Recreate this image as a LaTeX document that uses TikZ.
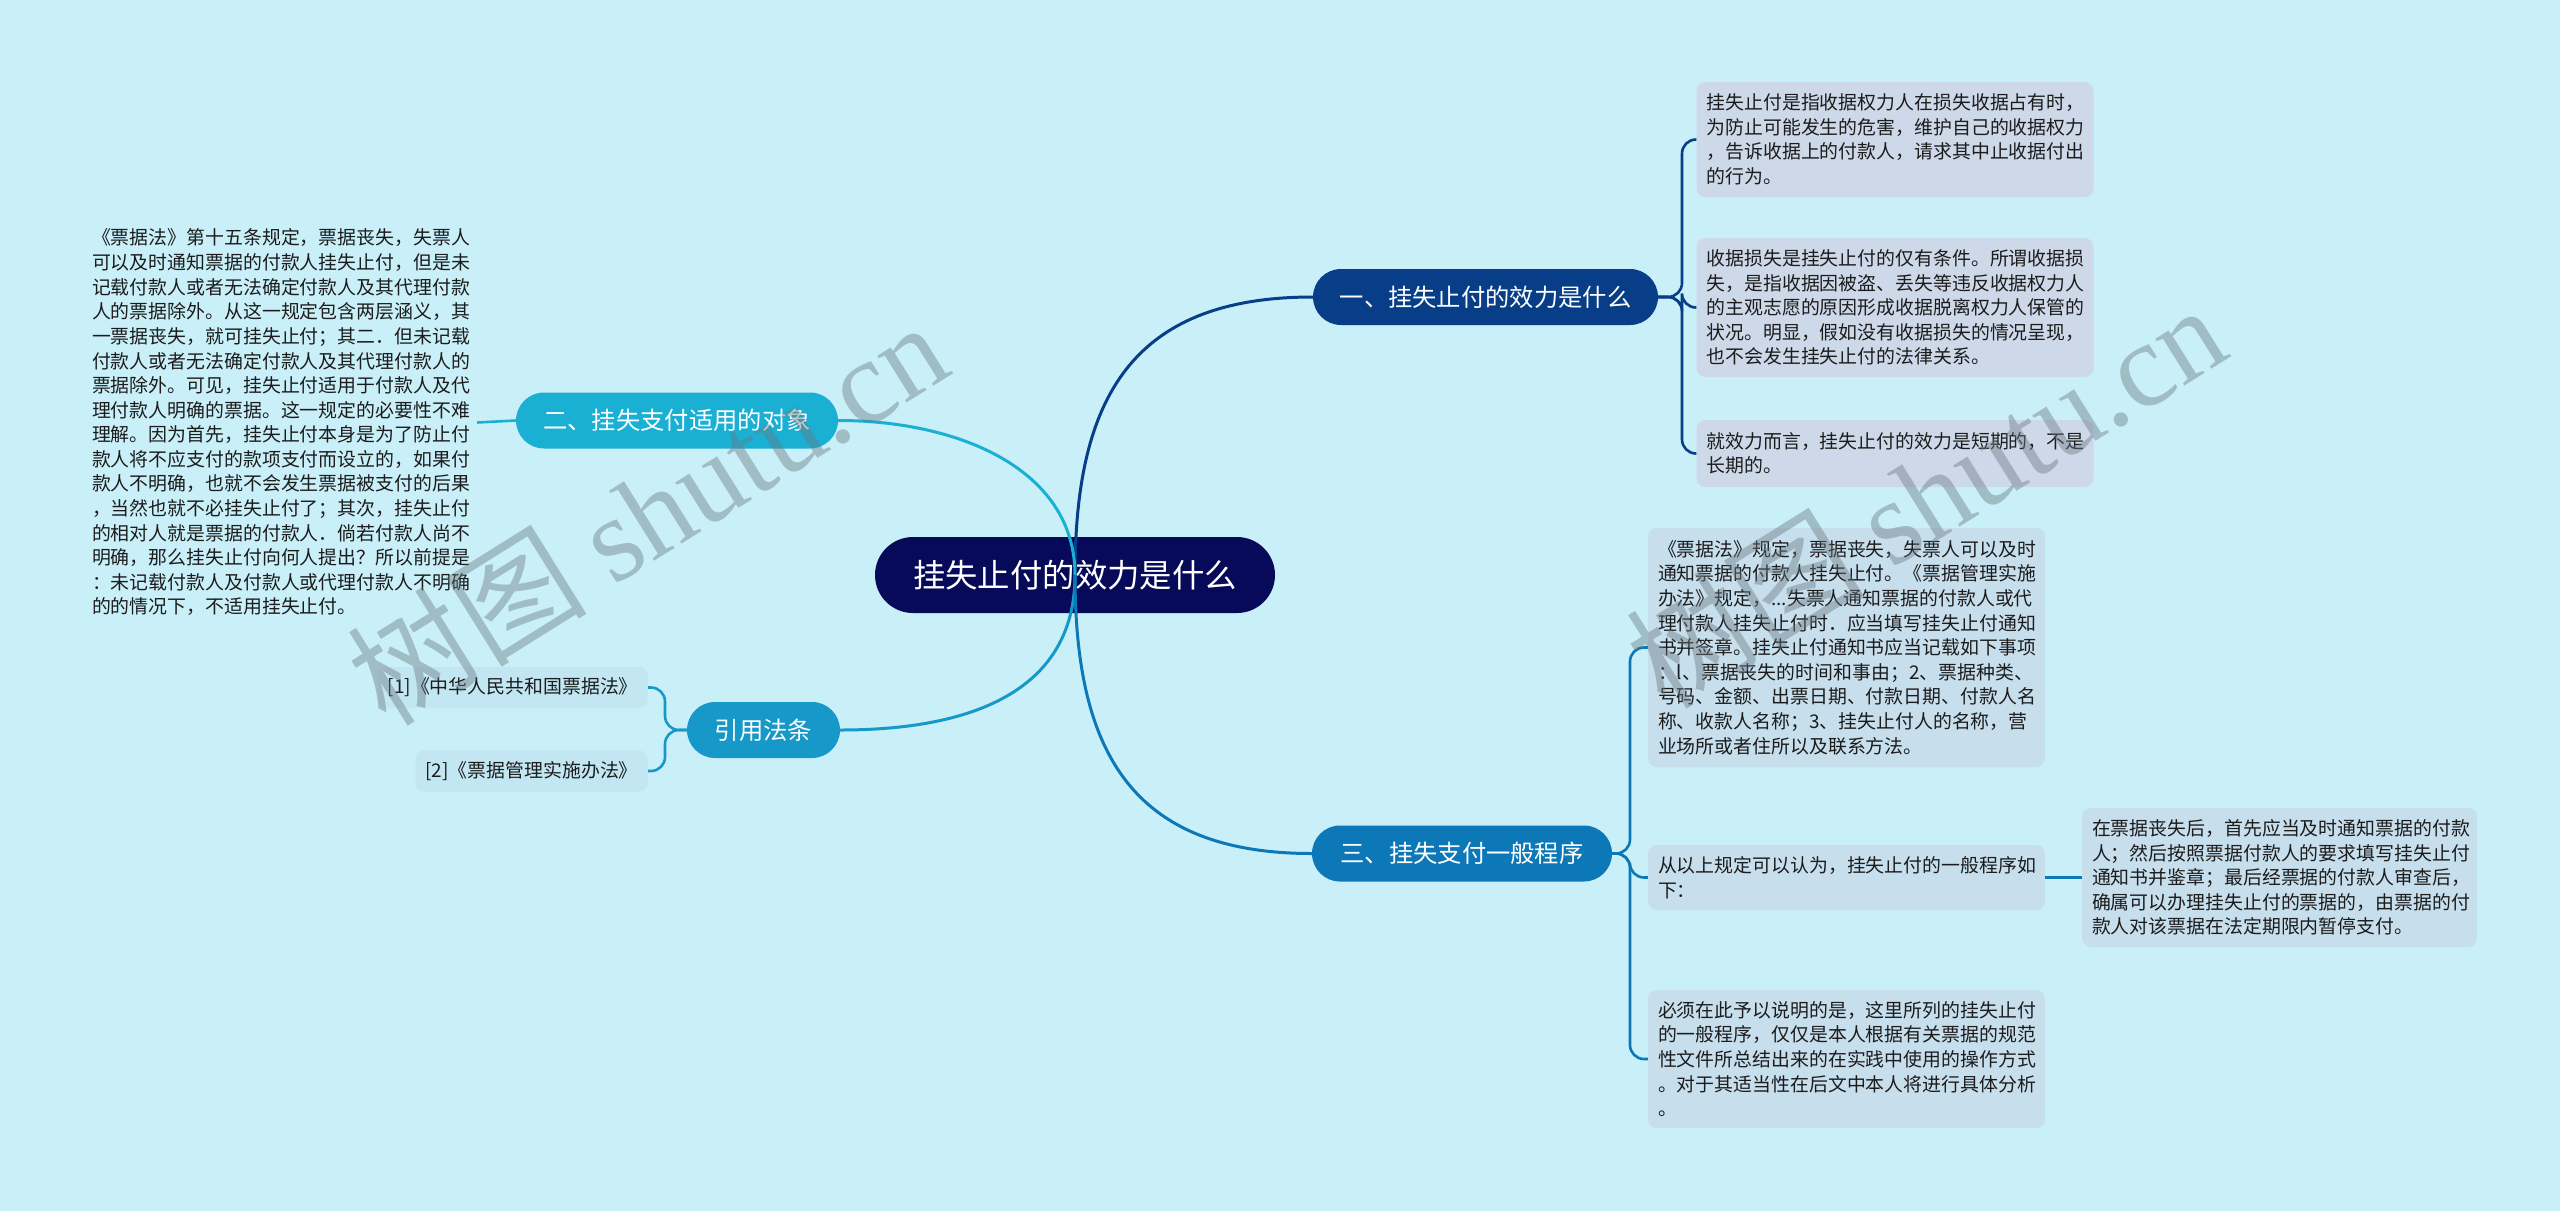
\documentclass[tikz,border=0pt]{standalone}
\usepackage{fontspec}
\setmainfont{Noto Sans CJK SC}
\newfontfamily\wmlatin{Liberation Serif}
\usetikzlibrary{calc}
\definecolor{bg}{RGB}{201,239,248}
\definecolor{cnavy}{RGB}{6,10,88}
\definecolor{cb1}{RGB}{7,62,135}
\definecolor{cb2}{RGB}{26,176,212}
\definecolor{cb4}{RGB}{22,152,200}
\definecolor{cb3}{RGB}{12,120,183}
\definecolor{leafA}{RGB}{205,216,232}
\definecolor{leafB}{RGB}{199,222,236}
\definecolor{citef}{RGB}{194,230,242}
\definecolor{txt}{RGB}{28,28,28}
\definecolor{wm}{RGB}{105,120,128}
\begin{document}
\begin{tikzpicture}[x=1pt,y=-1pt,
  rootbox/.style={fill=cnavy, text=white, rounded corners=38pt, minimum width=400pt, minimum height=76pt, inner sep=0pt, font=\fontsize{32.4}{36}\selectfont},
  branchbox/.style={text=white, rounded corners=28pt, minimum height=56pt, inner sep=0pt, font=\fontsize{24.3}{28}\selectfont},
  leafbox/.style={rounded corners=9pt, text width=377pt, inner xsep=10pt, inner ysep=0pt, align=left, text=txt, font=\fontsize{18.9}{24.6}\selectfont},
  citebox/.style={fill=citef, rounded corners=9pt, inner xsep=10pt, inner ysep=0pt, minimum height=41pt, text=txt, font=\fontsize{18.9}{24.6}\selectfont},
  mainline/.style={line width=3pt},
  leafline/.style={line width=2.6pt, rounded corners=14pt},
  wmark/.style={text=wm, opacity=0.42, rotate=32, inner sep=0pt}
]
\fill[bg] (0,0) rectangle (2560,1211);
\useasboundingbox (0,0) rectangle (2560,1211);

% root and branches
\node[rootbox] (root) at (1075,575) {挂失止付的效力是什么};
\node[branchbox, fill=cb1, minimum width=345pt] (b1) at (1485.5,297) {一、挂失止付的效力是什么};
\node[branchbox, fill=cb2, minimum width=322pt] (b2) at (677,420.5) {二、挂失支付适用的对象};
\node[branchbox, fill=cb4, minimum width=153pt] (b4) at (763.5,730) {引用法条};
\node[branchbox, fill=cb3, minimum width=300pt] (b3) at (1462,853.5) {三、挂失支付一般程序};

% branch 1 leaves
\node[leafbox, fill=leafA, minimum height=115pt] (l1a) at (1895,139.5) {挂失止付是指收据权力人在损失收据占有时，\\为防止可能发生的危害，维护自己的收据权力\\，告诉收据上的付款人，请求其中止收据付出\\的行为。};
\node[leafbox, fill=leafA, minimum height=139pt] (l1b) at (1895,307.5) {收据损失是挂失止付的仅有条件。所谓收据损\\失，是指收据因被盗、丢失等违反收据权力人\\的主观志愿的原因形成收据脱离权力人保管的\\状况。明显，假如没有收据损失的情况呈现，\\也不会发生挂失止付的法律关系。};
\node[leafbox, fill=leafA, minimum height=67pt] (l1c) at (1895,453.5) {就效力而言，挂失止付的效力是短期的，不是\\长期的。};

% branch 2 leaf
\node[leafbox, text width=378pt, inner xsep=7pt] (l2) at (281,422.5) {《票据法》第十五条规定，票据丧失，失票人\\可以及时通知票据的付款人挂失止付，但是未\\记载付款人或者无法确定付款人及其代理付款\\人的票据除外。从这一规定包含两层涵义，其\\一票据丧失，就可挂失止付；其二．但未记载\\付款人或者无法确定付款人及其代理付款人的\\票据除外。可见，挂失止付适用于付款人及代\\理付款人明确的票据。这一规定的必要性不难\\理解。因为首先，挂失止付本身是为了防止付\\款人将不应支付的款项支付而设立的，如果付\\款人不明确，也就不会发生票据被支付的后果\\，当然也就不必挂失止付了；其次，挂失止付\\的相对人就是票据的付款人．倘若付款人尚不\\明确，那么挂失止付向何人提出？所以前提是\\：未记载付款人及付款人或代理付款人不明确\\的的情况下，不适用挂失止付。};

% citations
\node[citebox, anchor=east] (c1) at (648,687.5) {[1]《中华人民共和国票据法》};
\node[citebox, anchor=east] (c2) at (648,771) {[2]《票据管理实施办法》};

% branch 3 leaves
\node[leafbox, fill=leafB, minimum height=239pt] (l3a) at (1846.5,647.5) {《票据法》规定，票据丧失，失票人可以及时\\通知票据的付款人挂失止付。《票据管理实施\\办法》规定，...失票人通知票据的付款人或代\\理付款人挂失止付时．应当填写挂失止付通知\\书并签章。挂失止付通知书应当记载如下事项\\：l、票据丧失的时间和事由；2、票据种类、\\号码、金额、出票日期、付款日期、付款人名\\称、收款人名称；3、挂失止付人的名称，营\\业场所或者住所以及联系方法。};
\node[leafbox, fill=leafB, minimum height=65pt] (l3b) at (1846.5,877.5) {从以上规定可以认为，挂失止付的一般程序如\\下：};
\node[leafbox, fill=leafB, minimum height=138pt] (l3c) at (1846.5,1059) {必须在此予以说明的是，这里所列的挂失止付\\的一般程序，仅仅是本人根据有关票据的规范\\性文件所总结出来的在实践中使用的操作方式\\。对于其适当性在后文中本人将进行具体分析\\。};
\node[leafbox, fill=leafB, text width=375pt, minimum height=139pt] (l3d) at (2279.5,877.5) {在票据丧失后，首先应当及时通知票据的付款\\人；然后按照票据付款人的要求填写挂失止付\\通知书并鉴章；最后经票据的付款人审查后，\\确属可以办理挂失止付的票据的，由票据的付\\款人对该票据在法定期限内暂停支付。};

% junction points
\coordinate (j1) at (1682,297);
\coordinate (j4) at (665,730);
\coordinate (j3) at (1630,853.5);

% leaf connectors
\draw[cb1, leafline] (b1.east) -- (j1) |- (l1a.west);
\draw[cb1, leafline] (b1.east) -- (j1) |- (l1b.west);
\draw[cb1, leafline] (b1.east) -- (j1) |- (l1c.west);
\draw[cb2, line width=2.6pt] (b2.west) -- (l2.east);
\draw[cb4, leafline] (b4.west) -- (j4) |- (c1.east);
\draw[cb4, leafline] (b4.west) -- (j4) |- (c2.east);
\draw[cb3, leafline] (b3.east) -- (j3) |- (l3a.west);
\draw[cb3, leafline] (b3.east) -- (j3) |- (l3b.west);
\draw[cb3, leafline] (b3.east) -- (j3) |- (l3c.west);
\draw[cb3, line width=2.6pt] (l3b.east) -- (l3d.west);

% main connectors (drawn over the root, as in the reference)
\draw[cb1, mainline] (root.center) .. controls (1075,400) and (1130,297) .. (b1.west);
\draw[cb2, mainline] (root.center) .. controls (1075,470) and (960,420.5) .. (b2.east);
\draw[cb4, mainline] (root.center) .. controls (1075,680) and (990,730) .. (b4.east);
\draw[cb3, mainline] (root.center) .. controls (1075,750) and (1130,853.5) .. (b3.west);

% watermarks
\node[wmark] (wm1) at (647,512) {\fontsize{120}{130}\selectfont 树图 \wmlatin shutu.cn};
\node[wmark] (wm2) at (1925,495) {\fontsize{120}{130}\selectfont 树图 \wmlatin shutu.cn};
\end{tikzpicture}
\end{document}
